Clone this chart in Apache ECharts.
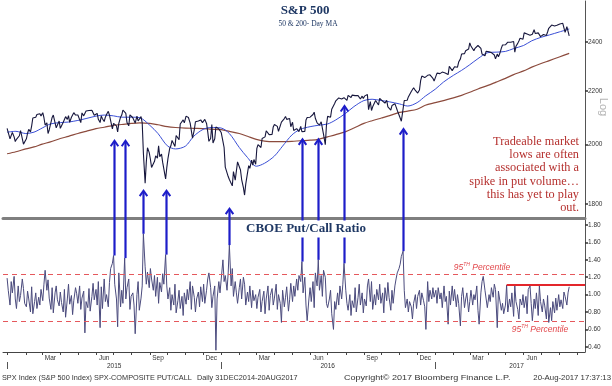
<!DOCTYPE html>
<html><head><meta charset="utf-8">
<script src="https://cdn.jsdelivr.net/npm/echarts@6/dist/echarts.min.js"></script>
<style>html,body{margin:0;padding:0;background:#fff}#c{width:612px;height:386px}</style>
</head><body><div id="c"></div>
<script>
// ---------------- DATA ----------------
// S&P 500 closes sampled Mon/Wed/Fri (first value = 31 Dec 2014)
const spx2015 = [2059,
 2058,2021,2026,2044,2028,2011,2019,2019,2032,2051,2057,2002,1995,
 2021,2041,2055,2046,2068,2097,2097,2100,2110,2109,2113,2105,
 2117,2098,2071,2079,2040,2053,2081,2099,2108,2104,2061,2061,2086,
 2059,2066,2081,2082,2102,2092,2106,2081,2100,2107,2117,2108,2106,
 2108,2114,2080,2116,2105,2099,2123,2130,2125,2126,2126,2123,2107,
 2112,2114,2092,2080,2105,2094,2084,2100,2110,2122,2108,2101,2057,
 2077,2077,2068,2046,2077,2100,2108,2127,2129,2114,2080,2068,2109,2104,
 2098,2100,2078,2104,2086,2092,2102,2079,1971,1868,1940,1989,1972,
 1949,1921,1921,1942,1961,1953,1996,1958,1967,1938,1932,1882,1920,
 1951,1987,1996,2015,2017,1994,2033,2033,2018,2075,2071,2090,2079,
 2104,2102,2099,2078,2075,2023,2053,2083,2089,2086,2089,2090,2080,
 2079,2092,2077,2047,2012,2022,2073,2006,2021,2064,2061,2057,2063];
const spx2016 = [
 2044,2012,1990,1922,1923,1890,1880,1880,1859,1907,1878,1883,1940,
 1940,1912,1880,1853,1829,1865,1865,1927,1918,1946,1929,1948,1932,
 1987,2000,2002,1990,2022,2019,2028,2050,2052,2036,2035,2037,2064,
 2073,2067,2066,2048,2042,2082,2081,2095,2103,2092,2088,2095,2065,
 2081,2051,2057,2058,2064,2047,2066,2047,2052,2048,2090,2099,2099,
 2100,2099,2110,2119,2096,2079,2072,2071,2083,2085,2037,2000,2071,
 2103,2103,2100,2130,2137,2152,2162,2166,2173,2175,2169,2166,2174,
 2170,2164,2183,2181,2175,2184,2190,2182,2184,2182,2175,2169,2180,2171,
 2180,2180,2186,2128,2159,2125,2139,2139,2163,2165,2146,2171,2168,
 2161,2160,2153,2164,2139,2133,2127,2144,2141,2151,2139,2126,2126,
 2097,2085,2131,2163,2164,2164,2177,2182,2198,2204,2213,2202,2199,
 2192,2204,2241,2259,2256,2253,2258,2262,2266,2264,2264,2250,2239];
const spx2017 = [
 2239,2271,2277,2269,2275,2275,2275,2271,2271,2265,2298,2295,2281,
 2279,2297,2293,2295,2316,2329,2349,2351,2351,2363,2367,2370,
 2396,2383,2375,2363,2373,2374,2385,2378,2373,2349,2344,2342,2361,2363,
 2359,2352,2355,2358,2345,2329,2349,2338,2349,2374,2387,2384,
 2388,2389,2399,2399,2399,2391,2402,2357,2382,2394,2404,2416,2416,2412,
 2439,2437,2434,2432,2429,2437,2433,2453,2436,2438,2439,2440,2423,
 2429,2432,2425,2428,2443,2459,2460,2473,2472,2469,2477,2472,2470,
 2478,2476,2481,2474,2441,2466,2468,2426];

// CBOE (SPX-composite) put/call ratio, same Mon/Wed/Fri sampling
const pcr2015 = [1.19,
 1.05,0.88,1.15,1.02,1.21,0.95,0.84,1.10,0.92,0.99,1.18,1.07,0.90,
 0.86,1.04,0.95,0.80,1.09,0.78,0.92,1.02,0.84,0.97,0.88,1.06,
 0.93,1.12,1.28,1.05,1.17,0.96,0.83,1.08,0.79,1.02,1.10,0.94,0.87,
 1.03,0.91,0.80,1.06,0.74,0.95,1.12,0.89,0.99,0.77,0.93,1.08,1.01,
 0.90,1.10,0.83,0.96,1.04,0.56,0.92,0.85,1.07,0.81,0.98,1.13,0.94,
 1.06,0.88,1.15,0.62,1.09,0.84,1.18,0.92,1.00,0.86,1.14,1.30,1.36,
 1.45,1.12,0.95,0.63,1.25,0.86,1.05,0.90,1.42,0.95,1.08,1.18,0.83,0.98,
 1.02,0.88,0.55,1.00,1.15,0.82,0.96,1.10,1.70,1.32,1.12,1.26,1.08,
 1.30,1.18,1.05,1.22,0.98,1.20,0.90,1.14,1.03,1.24,1.12,1.46,1.10,
 0.95,1.08,0.82,1.00,0.88,1.12,0.79,0.93,1.05,0.84,0.98,0.76,1.02,
 0.89,1.06,0.94,1.15,0.83,1.10,0.97,0.80,0.95,1.03,0.86,1.09,0.92,
 1.12,0.90,1.05,1.18,1.25,1.08,0.85,0.98,1.10,0.36,0.95,1.15,1.02];
const pcr2016 = [
 1.00,1.40,1.15,1.22,1.05,1.25,1.57,1.10,1.30,0.98,1.15,1.02,0.90,
 1.08,1.18,0.95,1.20,1.12,0.88,1.03,0.92,1.10,0.85,1.05,0.93,1.00,
 0.84,0.97,1.06,0.80,0.92,1.04,0.78,0.95,1.10,0.82,0.99,1.07,0.88,
 0.96,1.12,0.83,1.00,0.90,0.68,1.05,0.86,0.97,1.09,0.81,0.94,1.13,
 0.92,1.10,0.98,1.18,1.05,1.22,1.15,1.38,1.02,1.20,0.88,0.70,0.95,
 1.08,0.92,1.15,0.85,1.25,1.10,1.40,1.05,1.22,0.98,1.28,1.20,0.90,
 0.85,0.95,1.05,0.78,0.60,0.92,0.83,1.02,0.88,1.10,0.95,1.12,1.36,
 1.05,0.90,0.82,1.00,0.76,0.93,0.85,1.08,0.80,0.97,1.12,0.88,1.02,0.79,
 0.95,0.87,1.10,1.18,0.92,1.15,0.83,1.00,0.88,1.06,0.94,1.12,0.90,
 1.02,0.79,1.08,0.93,1.14,0.97,0.82,1.05,0.90,1.10,1.18,1.25,1.30,
 1.35,1.44,1.50,1.05,0.85,0.95,0.80,0.92,0.86,0.72,0.90,1.00,0.84,
 0.98,1.05,0.88,1.02,0.93,0.86,0.60,1.15,0.92,1.05,0.95,1.08,0.97];
const pcr2017 = [
 1.05,0.90,1.08,0.95,1.02,0.85,1.10,0.92,0.98,0.66,1.04,0.88,1.10,
 0.93,1.06,0.86,1.00,0.90,0.64,0.98,1.08,0.85,0.95,1.02,0.80,
 0.92,1.05,0.88,1.00,0.94,1.10,0.82,0.66,1.02,1.15,1.21,1.05,0.95,0.85,
 1.00,0.92,1.08,0.97,1.12,1.06,0.62,1.04,0.95,0.82,0.90,0.78,
 0.88,1.11,0.80,0.95,0.86,1.02,0.75,1.10,0.92,0.83,0.72,0.95,0.88,1.00,
 0.85,0.98,0.78,1.06,1.10,0.90,0.70,0.95,0.84,1.02,0.76,1.10,0.92,
 0.80,0.95,0.88,0.72,0.99,0.68,0.85,0.70,0.92,0.79,0.96,0.82,1.00,
 0.86,0.94,0.84,1.03,0.98,0.88,1.02,1.09];

// Moving averages read semi-monthly (1st & 15th)
const ma50 = [2045,2048,2040,2045,2060,2075,2080,2082,2088,2095,2104,2108,2105,2100,2100,2098,2070,2040,1996,1985,1995,2030,2055,2062,
 2060,2040,1990,1955,1925,1935,1960,1995,2035,2055,2065,2070,2075,2090,2115,2140,2163,2168,2163,2158,2150,2142,2155,2180,
 2207,2235,2262,2282,2305,2330,2355,2357,2360,2372,2385,2405,2420,2430,2443,2456];
const ma200 = [1968,1975,1985,1992,2002,2010,2022,2030,2040,2048,2058,2063,2070,2073,2077,2079,2077,2072,2065,2062,2060,2059,2058,2056,
 2054,2048,2040,2030,2019,2013,2011,2011,2012,2014,2016,2019,2028,2036,2047,2060,2077,2087,2097,2106,2118,2123,2130,2145,
 2155,2163,2173,2183,2195,2208,2222,2235,2250,2265,2280,2295,2310,2322,2337,2352];

// Reference levels on the put/call panel
const pct95Upper = 1.24;
const pct95Lower = 0.69;
const recentHigh = 1.11;
const recentHighStart = '2017-05-03';

// Arrows: spike date, price level the arrow points at
const arrowDates = ['2015-07-01','2015-07-20','2015-08-21','2015-09-28','2016-01-15','2016-05-18','2016-06-15','2016-07-29','2016-11-07'];
const arrowTips  = [2016,2016,1845,1845,1787,2021,2021,2144,2058];

// Tick labels
const spxTicks = [1800,2000,2200,2400];
const pcrTicks = [0.4,0.6,0.8,1.0,1.2,1.4,1.6,1.8];
const monthLabelDates = ['2015-03-15','2015-06-15','2015-09-15','2015-12-15','2016-03-15','2016-06-15','2016-09-15','2016-12-15','2017-03-15','2017-06-15'];
const monthLabelText  = ['Mar','Jun','Sep','Dec','Mar','Jun','Sep','Dec','Mar','Jun'];
const yearLabelDates = ['2015-07-02','2016-07-01','2017-05-20'];
const yearLabelText  = ['2015','2016','2017'];
const yearStarts = ['2015-01-01','2016-01-01','2017-01-01'];

const annotation = ['Tradeable market','lows are often','associated with a','spike in put volume\u2026','this has yet to play','out.'];

// ---------------- HELPERS ----------------
const T = s => new Date(s + 'T00:00:00').getTime();
function mwfDates(a, b) {
  const out = []; const d = new Date(a + 'T00:00:00'); const e = new Date(b + 'T00:00:00');
  while (d <= e) { const w = d.getDay(); if (w === 1 || w === 3 || w === 5) out.push(d.getTime()); d.setDate(d.getDate() + 1); }
  return out;
}
const dates = [].concat(mwfDates('2014-12-31','2015-12-31'), mwfDates('2016-01-01','2016-12-31'), mwfDates('2017-01-01','2017-08-18'));
const spx = [].concat(spx2015, spx2016, spx2017);
const pcr = [].concat(pcr2015, pcr2016, pcr2017);
const maDates = [];
for (let y = 2015; y <= 2017; y++) for (let m = 1; m <= 12; m++) {
  if (y === 2017 && m > 8) break;
  const mm = String(m).padStart(2, '0');
  maDates.push(`${y}-${mm}-01`, `${y}-${mm}-15`);
}
maDates[0] = '2014-12-31'; maDates[maDates.length - 1] = '2017-08-18';
const monthStarts = [];
for (let y = 2015; y <= 2017; y++) for (let m = 1; m <= 12; m++) {
  if (y === 2017 && m > 9) break;
  monthStarts.push(T(`${y}-${String(m).padStart(2,'0')}-01`));
}
const monthMap = new Map(monthLabelDates.map((d, i) => [T(d), monthLabelText[i]]));
const yearMap = new Map(yearLabelDates.map((d, i) => [T(d), yearLabelText[i]]));

const xMin = T('2014-12-24'), xMax = T('2017-09-14');
const SANS = 'Liberation Sans', SERIF = 'Liberation Serif';
const lbl = {fontSize: 6.5, color: '#333', fontFamily: SANS};

const chart = echarts.init(document.getElementById('c'), null, {renderer: 'canvas', width: 612, height: 386});
chart.setOption({
  animation: false,
  backgroundColor: '#fff',
  grid: [
    {left: 3, right: 27, top: 1, height: 217, containLabel: false, outerBoundsMode: 'none'},
    {left: 3, right: 27, top: 219, height: 133, containLabel: false, outerBoundsMode: 'none'}
  ],
  xAxis: [
    {type: 'value', gridIndex: 0, min: xMin, max: xMax, scale: true,
     axisLine: {show: true, onZero: false, lineStyle: {color: '#7f7f7f', width: 3}},
     axisTick: {show: false}, axisLabel: {show: false}, splitLine: {show: false}},
    {type: 'value', gridIndex: 1, min: xMin, max: xMax, scale: true,
     axisLine: {show: true, onZero: false, lineStyle: {color: '#444', width: 1}},
     axisTick: {show: true, length: 3, customValues: monthStarts, lineStyle: {color: '#444'}},
     axisLabel: Object.assign({customValues: monthLabelDates.map(T), margin: 3, formatter: v => monthMap.get(v) || ''}, lbl),
     splitLine: {show: false}},
    {type: 'value', gridIndex: 1, min: xMin, max: xMax, scale: true, position: 'bottom', offset: 10,
     axisLine: {show: false, onZero: false},
     axisTick: {show: true, length: 7, customValues: yearStarts.map(T), lineStyle: {color: '#555'}},
     axisLabel: Object.assign({customValues: yearLabelDates.map(T), margin: 1, formatter: v => yearMap.get(v) || ''}, lbl),
     splitLine: {show: false}}
  ],
  yAxis: [
    {type: 'log', logBase: 10, gridIndex: 0, position: 'right', min: 1756, max: 2581,
     axisLine: {show: true, lineStyle: {color: '#555'}},
     axisTick: {show: true, length: 3, customValues: spxTicks, lineStyle: {color: '#333', width: 1.5}},
     axisLabel: Object.assign({customValues: spxTicks, margin: 3, formatter: v => String(Math.round(v))}, lbl),
     splitLine: {show: false}},
    {type: 'value', gridIndex: 1, position: 'right', min: 0.34, max: 1.87,
     axisLine: {show: true, lineStyle: {color: '#555'}},
     axisTick: {show: true, length: 3, customValues: pcrTicks, lineStyle: {color: '#333', width: 1.5}},
     axisLabel: Object.assign({customValues: pcrTicks, margin: 3, formatter: v => Number(v).toFixed(2)}, lbl),
     splitLine: {show: false}}
  ],
  series: [
    {type: 'line', name: '200-Day MA', xAxisIndex: 0, yAxisIndex: 0, data: maDates.map((d, i) => [T(d), ma200[i]]),
     symbol: 'none', smooth: 0.3, lineStyle: {color: '#8c4b3d', width: 1.2}, z: 2},
    {type: 'line', name: '50-Day MA', xAxisIndex: 0, yAxisIndex: 0, data: maDates.map((d, i) => [T(d), ma50[i]]),
     symbol: 'none', smooth: 0.3, lineStyle: {color: '#3b4fd6', width: 1}, z: 3},
    {type: 'line', name: 'S&P 500', xAxisIndex: 0, yAxisIndex: 0, data: dates.map((d, i) => [d, spx[i]]),
     symbol: 'none', lineStyle: {color: '#17173d', width: 1.1}, z: 4},
    {type: 'line', name: 'Put/Call', xAxisIndex: 1, yAxisIndex: 1, data: dates.map((d, i) => [d, pcr[i]]),
     symbol: 'none', lineStyle: {color: '#4b4b7d', width: 1}, z: 4,
     markLine: {silent: true, symbol: ['none', 'none'], label: {show: false}, animation: false,
       data: [
         {yAxis: pct95Upper, lineStyle: {color: '#e5585c', type: [5, 4], width: 1}},
         {yAxis: pct95Lower, lineStyle: {color: '#e5585c', type: [5, 4], width: 1}},
         [{coord: [T(recentHighStart), recentHigh], lineStyle: {color: '#e3262b', type: 'solid', width: 2}}, {coord: [xMax, recentHigh]}]
       ]}}
  ]
});

// ---------------- ANNOTATIONS ----------------
const px = d => chart.convertToPixel({xAxisIndex: 1}, T(d));
const pyP = v => chart.convertToPixel({yAxisIndex: 0}, v);
const pyR = v => chart.convertToPixel({yAxisIndex: 1}, v);
const g = [];
arrowDates.forEach((d, i) => {
  const idx = dates.indexOf(T(d));
  const from = pcr[idx];
  const x = Math.round(px(d)) + 0.5;
  const yb = pyR(from), yt = pyP(arrowTips[i]);
  g.push({type: 'line', z: 50, shape: {x1: x, y1: yb, x2: x, y2: yt + 1}, style: {stroke: '#1d1dc9', lineWidth: 2.2}});
  g.push({type: 'polyline', z: 50, shape: {points: [[x - 3.8, yt + 6], [x, yt + 0.5], [x + 3.8, yt + 6]]}, style: {stroke: '#1d1dc9', lineWidth: 2, fill: null}});
});
g.push({type: 'text', z: 60, x: 305, y: 11, style: {text: 'S&P 500', font: `bold 13px "${SERIF}"`, fill: '#1f3864', align: 'center', verticalAlign: 'middle'}});
g.push({type: 'text', z: 60, x: 308, y: 24, style: {text: '50 & 200- Day MA', font: `7.5px "${SERIF}"`, fill: '#1f3864', align: 'center', verticalAlign: 'middle'}});
g.push({type: 'text', z: 60, x: 306, y: 229, style: {text: 'CBOE Put/Call Ratio', font: `bold 13px "${SERIF}"`, fill: '#1f3864', align: 'center', verticalAlign: 'middle', backgroundColor: '#fff', padding: [2, 3, 2, 3]}});
const annY = [141.7, 155, 168.2, 181.5, 195, 208.2];
annotation.forEach((t, i) => g.push({type: 'text', z: 60, x: 579, y: annY[i], style: {text: t, font: `12.3px "${SERIF}"`, fill: '#b5302e', align: 'right', verticalAlign: 'middle'}}));
const pctRich = {
  n: {fontSize: 8.5, fontStyle: 'italic', fontFamily: SANS, fill: '#e2474b', color: '#e2474b', verticalAlign: 'bottom', lineHeight: 10},
  s: {fontSize: 5, fontStyle: 'italic', fontFamily: SANS, fill: '#e2474b', color: '#e2474b', verticalAlign: 'top', lineHeight: 10}
};
g.push({type: 'text', z: 60, x: 482, y: pyR(pct95Upper) - 6.5, style: {text: '{n|95}{s|TH}{n| Percentile}', rich: pctRich, align: 'center', verticalAlign: 'middle'}});
g.push({type: 'text', z: 60, x: 540, y: pyR(pct95Lower) + 8, style: {text: '{n|95}{s|TH}{n| Percentile}', rich: pctRich, align: 'center', verticalAlign: 'middle'}});
g.push({type: 'text', z: 60, x: 603, y: 107, rotation: -Math.PI / 2, style: {text: 'Log', font: `11px "${SANS}"`, fill: '#b3b3b3', align: 'center', verticalAlign: 'middle'}});
const foot = {font: `7.3px "${SANS}"`, fill: '#333', verticalAlign: 'middle'};
g.push({type: 'text', z: 60, x: 2, y: 378, style: Object.assign({text: 'SPX Index (S&P 500 Index) SPX-COMPOSITE PUT/CALL', align: 'left'}, foot)});
g.push({type: 'text', z: 60, x: 197, y: 378, style: Object.assign({text: 'Daily 31DEC2014-20AUG2017', align: 'left'}, foot)});
g.push({type: 'text', z: 60, x: 344, y: 378, scaleX: 1.24, style: Object.assign({text: 'Copyright\u00A9 2017 Bloomberg Finance L.P.', align: 'left'}, foot)});
g.push({type: 'text', z: 60, x: 611, y: 378, scaleX: 1.07, style: Object.assign({text: '20-Aug-2017 17:37:13', align: 'right'}, foot)});
chart.setOption({graphic: g});
</script></body></html>
